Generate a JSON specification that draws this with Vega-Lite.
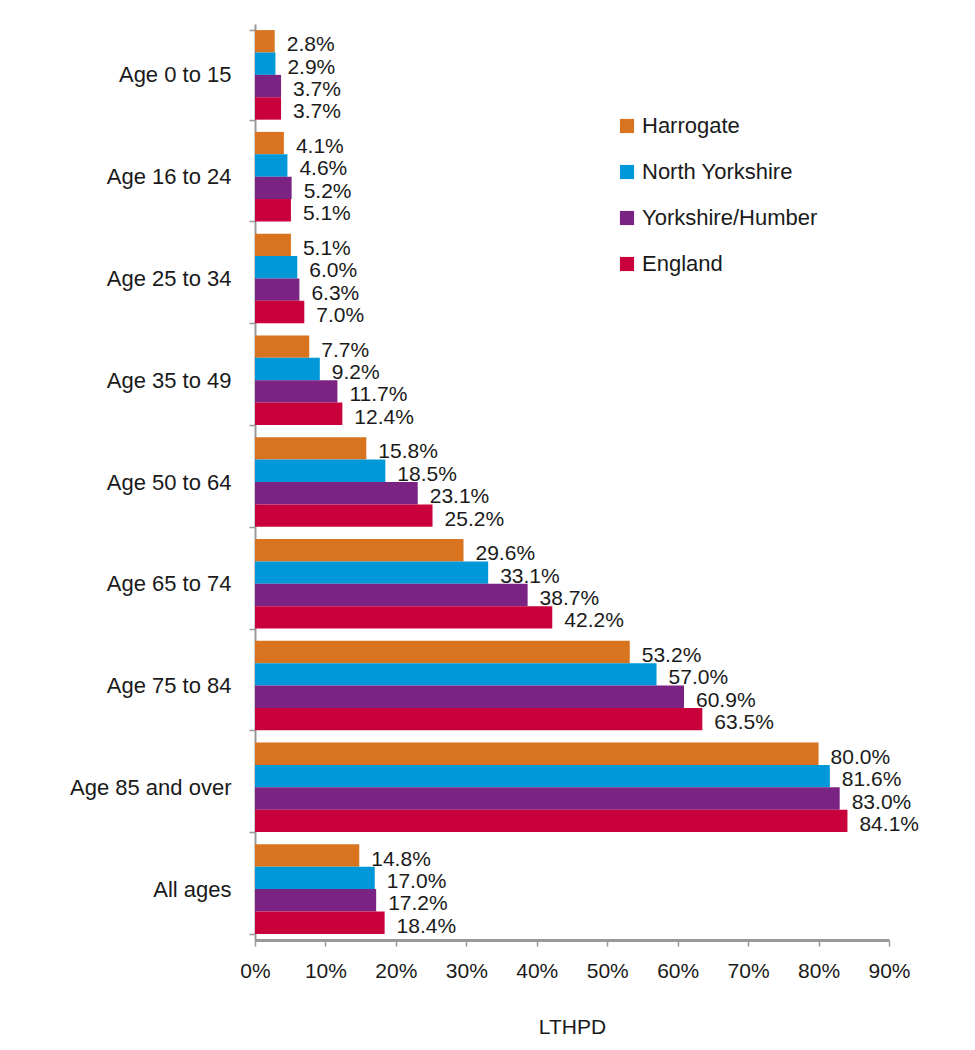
{
  "$schema": "https://vega.github.io/schema/vega-lite/v6.json",
  "autosize": "none",
  "padding": {"left": 255, "top": 24, "right": 86, "bottom": 110},
  "width": 634,
  "height": 916,
  "background": "white",
  "config": {
    "view": {"stroke": null},
    "font": "Liberation Sans",
    "text": {"font": "Liberation Sans"}
  },
  "data": {
    "values": [
      {"age": "Age 0 to 15", "area": "Harrogate", "v": 0.028},
      {"age": "Age 0 to 15", "area": "North Yorkshire", "v": 0.029},
      {"age": "Age 0 to 15", "area": "Yorkshire/Humber", "v": 0.037},
      {"age": "Age 0 to 15", "area": "England", "v": 0.037},
      {"age": "Age 16 to 24", "area": "Harrogate", "v": 0.041},
      {"age": "Age 16 to 24", "area": "North Yorkshire", "v": 0.046},
      {"age": "Age 16 to 24", "area": "Yorkshire/Humber", "v": 0.052},
      {"age": "Age 16 to 24", "area": "England", "v": 0.051},
      {"age": "Age 25 to 34", "area": "Harrogate", "v": 0.051},
      {"age": "Age 25 to 34", "area": "North Yorkshire", "v": 0.060},
      {"age": "Age 25 to 34", "area": "Yorkshire/Humber", "v": 0.063},
      {"age": "Age 25 to 34", "area": "England", "v": 0.070},
      {"age": "Age 35 to 49", "area": "Harrogate", "v": 0.077},
      {"age": "Age 35 to 49", "area": "North Yorkshire", "v": 0.092},
      {"age": "Age 35 to 49", "area": "Yorkshire/Humber", "v": 0.117},
      {"age": "Age 35 to 49", "area": "England", "v": 0.124},
      {"age": "Age 50 to 64", "area": "Harrogate", "v": 0.158},
      {"age": "Age 50 to 64", "area": "North Yorkshire", "v": 0.185},
      {"age": "Age 50 to 64", "area": "Yorkshire/Humber", "v": 0.231},
      {"age": "Age 50 to 64", "area": "England", "v": 0.252},
      {"age": "Age 65 to 74", "area": "Harrogate", "v": 0.296},
      {"age": "Age 65 to 74", "area": "North Yorkshire", "v": 0.331},
      {"age": "Age 65 to 74", "area": "Yorkshire/Humber", "v": 0.387},
      {"age": "Age 65 to 74", "area": "England", "v": 0.422},
      {"age": "Age 75 to 84", "area": "Harrogate", "v": 0.532},
      {"age": "Age 75 to 84", "area": "North Yorkshire", "v": 0.570},
      {"age": "Age 75 to 84", "area": "Yorkshire/Humber", "v": 0.609},
      {"age": "Age 75 to 84", "area": "England", "v": 0.635},
      {"age": "Age 85 and over", "area": "Harrogate", "v": 0.800},
      {"age": "Age 85 and over", "area": "North Yorkshire", "v": 0.816},
      {"age": "Age 85 and over", "area": "Yorkshire/Humber", "v": 0.830},
      {"age": "Age 85 and over", "area": "England", "v": 0.841},
      {"age": "All ages", "area": "Harrogate", "v": 0.148},
      {"age": "All ages", "area": "North Yorkshire", "v": 0.170},
      {"age": "All ages", "area": "Yorkshire/Humber", "v": 0.172},
      {"age": "All ages", "area": "England", "v": 0.184}
    ]
  },
  "encoding": {
    "y": {
      "field": "age", "type": "nominal", "sort": null,
      "scale": {"paddingInner": 0.12, "paddingOuter": 0.06},
      "axis": {
        "title": null, "tickBand": "extent", "labelFontSize": 22, "labelColor": "#1a1a1a",
        "labelPadding": 18, "domainColor": "#999999", "domainWidth": 2, "tickColor": "#999999",
        "tickWidth": 1.5, "tickSize": 6, "labelFont": "Liberation Sans", "labelLimit": 300
      }
    },
    "yOffset": {
      "field": "area", "type": "nominal",
      "sort": ["Harrogate", "North Yorkshire", "Yorkshire/Humber", "England"],
      "scale": {"paddingInner": 0, "paddingOuter": 0}
    },
    "x": {
      "field": "v", "type": "quantitative",
      "scale": {"domain": [0, 0.9], "nice": false},
      "axis": {
        "title": "LTHPD", "format": ".0%", "values": [0,0.1,0.2,0.3,0.4,0.5,0.6,0.7,0.8,0.9],
        "labelOverlap": false, "labelBound": false, "labelFlush": false,
        "grid": false, "labelFontSize": 21, "labelColor": "#1a1a1a", "labelPadding": 14,
        "domainColor": "#999999", "domainWidth": 3, "tickColor": "#999999", "tickWidth": 1.5, "tickSize": 6,
        "titleFontSize": 21, "titleFontWeight": "normal", "titleColor": "#1a1a1a", "titlePadding": 35,
        "labelFont": "Liberation Sans", "titleFont": "Liberation Sans"
      }
    }
  },
  "layer": [
    {
      "mark": {"type": "bar"},
      "encoding": {
        "color": {
          "field": "area", "type": "nominal",
          "scale": {
            "domain": ["Harrogate", "North Yorkshire", "Yorkshire/Humber", "England"],
            "range": ["#D8731F", "#0098D8", "#7A2383", "#C8003C"]
          },
          "legend": {
            "title": null, "orient": "none", "legendX": 361, "legendY": 91,
            "symbolType": "square", "symbolSize": 200, "symbolStrokeWidth": 0,
            "labelFontSize": 22, "labelColor": "#1a1a1a", "rowPadding": 24, "labelOffset": 4,
            "labelFont": "Liberation Sans", "labelLimit": 400
          }
        }
      }
    },
    {
      "mark": {"type": "text", "align": "left", "baseline": "middle", "dx": 12, "dy": 4, "fontSize": 21, "color": "#1a1a1a"},
      "encoding": {
        "text": {"field": "v", "type": "quantitative", "format": ".1%"}
      }
    }
  ]
}
